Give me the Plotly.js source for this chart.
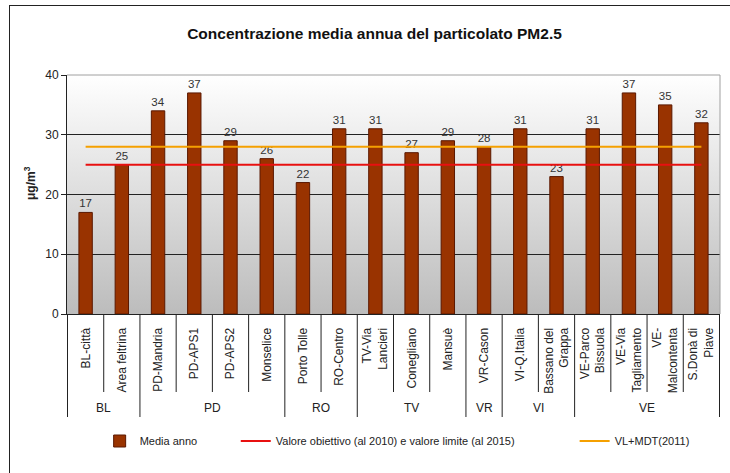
<!DOCTYPE html>
<html>
<head>
<meta charset="utf-8">
<script src="https://cdn.plot.ly/plotly-3.0.1.min.js"></script>
<style>
  html, body { margin: 0; padding: 0; background: #ffffff; }
  #chart { position: absolute; left: 0; top: 0; width: 730px; height: 473px; }
  #frame { position: absolute; left: 9px; top: 5px; width: 730px; height: 480px;
           border-left: 1.5px solid #222; border-top: 1.5px solid #222; pointer-events: none; }
</style>
</head>
<body>
<div id="chart"></div>
<div id="frame"></div>
<script>
// ---- data ----
const stations = ["BL-città", "Area feltrina", "PD-Mandria", "PD-APS1", "PD-APS2", "Monselice",
  "Porto Tolle", "RO-Centro", "TV-Via<br>Lancieri", "Conegliano", "Mansuè", "VR-Cason",
  "VI-Q.Italia", "Bassano del<br>Grappa", "VE-Parco<br>Bissuola", "VE-Via<br>Tagliamento",
  "VE-<br>Malcontenta", "S.Donà di<br>Piave"];
const mediaAnno = [17, 25, 34, 37, 29, 26, 22, 31, 31, 27, 29, 28, 31, 23, 31, 37, 35, 32];
const provinces = ["BL", "PD", "RO", "TV", "VR", "VI", "VE"];
const provinceCounts = [2, 4, 2, 3, 1, 2, 4];
const valoreObiettivo = 25;
const vlMdt = 28;
const yTicks = [0, 10, 20, 30, 40];

// ---- layout helpers ----
const FONT = "Liberation Sans, Arial, sans-serif";
const plotH = 239;
const plotW = 653;
const shortSep = -78 / plotH;
const longSep = -103 / plotH;

const shapes = [];
const annotations = [];
let start = 0;
shapes.push({type: "line", xref: "x", yref: "paper", x0: -0.5, x1: -0.5, y0: 0, y1: longSep,
  line: {color: "#222", width: 1}});
provinces.forEach((p, gi) => {
  const n = provinceCounts[gi];
  for (let k = 1; k < n; k++) {
    const xb = start + k - 0.5;
    shapes.push({type: "line", xref: "x", yref: "paper", x0: xb, x1: xb, y0: 0, y1: shortSep,
      line: {color: "#222", width: 1}});
  }
  const end = start + n - 1;
  shapes.push({type: "line", xref: "x", yref: "paper", x0: end + 0.5, x1: end + 0.5, y0: 0, y1: longSep,
    line: {color: "#222", width: 1}});
  annotations.push({xref: "x", yref: "paper", x: (start + end) / 2, y: -94 / plotH,
    text: p, showarrow: false, yanchor: "middle", font: {family: FONT, size: 12, color: "#222"}});
  start += n;
});
// y-axis title
annotations.push({xref: "paper", yref: "paper", x: -37 / plotW, y: 131 / plotH, textangle: -90,
  text: "<b>μg/m<sup>3</sup></b>", showarrow: false, xanchor: "center", yanchor: "middle",
  font: {family: FONT, size: 12, color: "#222"}});
// plot area border (top and right) in grey
shapes.push({type: "line", xref: "paper", yref: "paper", x0: 0, x1: 1, y0: 1, y1: 1,
  line: {color: "#a0a0a0", width: 1}, layer: "above"});
shapes.push({type: "line", xref: "paper", yref: "paper", x0: 1, x1: 1, y0: 0, y1: 1,
  line: {color: "#a0a0a0", width: 1}, layer: "above"});

const gradSvg = '<svg xmlns="http://www.w3.org/2000/svg" width="100" height="100" preserveAspectRatio="none">' +
  '<defs><linearGradient id="g" x1="0" y1="0" x2="0" y2="1">' +
  '<stop offset="0" stop-color="#ffffff"/><stop offset="1" stop-color="#bcbcbc"/></linearGradient></defs>' +
  '<rect width="100" height="100" fill="url(#g)"/></svg>';
const gradUri = "data:image/svg+xml;utf8," + encodeURIComponent(gradSvg);

const last = stations.length - 1;
const NB = "\u00a0";

const traces = [
  {
    type: "bar", x: stations, y: mediaAnno, name: "Media anno" + NB.repeat(11),
    marker: {color: "#993300", line: {color: "#5a1800", width: 1}},
    text: mediaAnno.map(String), textposition: "outside", cliponaxis: false,
    textfont: {family: FONT, size: 11.5, color: "#333"}
  },
  {
    type: "scatter", mode: "lines", x: [stations[0], stations[last]],
    y: [valoreObiettivo, valoreObiettivo],
    name: "Valore obiettivo (al 2010) e valore limite (al 2015)" + NB.repeat(18),
    line: {color: "#e81010", width: 2}
  },
  {
    type: "scatter", mode: "lines", x: [stations[0], stations[last]],
    y: [vlMdt, vlMdt], name: "VL+MDT(2011)",
    line: {color: "#f5a000", width: 2}
  }
];

const layout = {
  width: 730, height: 473,
  margin: {l: 67, r: 10, t: 75, b: 159},
  paper_bgcolor: "rgba(0,0,0,0)", plot_bgcolor: "rgba(0,0,0,0)",
  font: {family: FONT, size: 11, color: "#222"},
  title: {text: "<b>Concentrazione media annua del particolato PM2.5</b>",
    font: {family: FONT, size: 15.5, color: "#111"}, x: 0.513, xanchor: "center", y: 0.93, yanchor: "middle"},
  bargap: 0.63,
  showlegend: true,
  legend: {orientation: "h", x: 0.05, xanchor: "left", y: -127 / plotH, yanchor: "middle",
    font: {family: FONT, size: 11, color: "#222"}, bgcolor: "rgba(0,0,0,0)"},
  xaxis: {type: "category", tickangle: -90, showline: true, linecolor: "#222", linewidth: 1,
    ticks: "outside", ticklen: 8, tickcolor: "rgba(0,0,0,0)", showgrid: false,
    tickfont: {family: FONT, size: 12, color: "#222"}, fixedrange: true, automargin: false},
  yaxis: {range: [0, 40], tickvals: yTicks, showline: true, linecolor: "#222", linewidth: 1,
    ticks: "outside", ticklen: 5, tickcolor: "#222", showgrid: true, gridcolor: "#222", gridwidth: 1,
    zeroline: false, tickfont: {family: FONT, size: 12, color: "#222"},
    automargin: false, fixedrange: true},
  shapes: shapes,
  annotations: annotations,
  images: [{source: gradUri, xref: "paper", yref: "paper", x: 0, y: 1, sizex: 1, sizey: 1,
    sizing: "stretch", xanchor: "left", yanchor: "top", layer: "below"}]
};

Plotly.newPlot("chart", traces, layout, {displayModeBar: false, staticPlot: true});
</script>
</body>
</html>
